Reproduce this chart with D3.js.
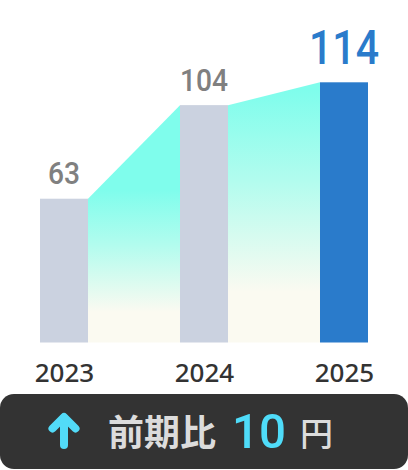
<!DOCTYPE html>
<html><head><meta charset="utf-8">
<script src="https://cdn.jsdelivr.net/npm/d3@7"></script>
<style>
html,body{margin:0;padding:0;background:#fff;}
svg{display:block;}
</style>
</head><body>
<svg id="c" width="408" height="470"></svg>
<script>
const years = ["2023", "2024", "2025"];
const values = [63, 104, 114];
const highlightIndex = 2;
const summaryLabel = "前期比";
const summaryValue = 10;
const summaryUnit = "円";

const W = 408, H = 470;
const svg = d3.select("#c");
const barW = 48;
const x = d3.scalePoint().domain(years).range([64, 344]);
const y = d3.scaleLinear().domain([0, 114]).range([342.5, 82.3]);

const defs = svg.append("defs");
const gradStops = [
  {id: "g0", y1: 190, y2: 312},
  {id: "g1", y1: 90, y2: 292}
];
gradStops.forEach(g => {
  const lg = defs.append("linearGradient").attr("id", g.id)
    .attr("gradientUnits", "userSpaceOnUse")
    .attr("x1", 0).attr("x2", 0).attr("y1", g.y1).attr("y2", g.y2);
  lg.append("stop").attr("offset", 0).attr("stop-color", "#7ffdec");
  lg.append("stop").attr("offset", 0.45).attr("stop-color", "#b2fcee");
  lg.append("stop").attr("offset", 1).attr("stop-color", "#fbfaf1");
});

// connecting areas
const area = d3.area().x(d => d[0]).y0(y(0)).y1(d => d[1]);
for (let i = 0; i < years.length - 1; i++) {
  const pts = [
    [x(years[i]) + barW / 2, y(values[i])],
    [x(years[i + 1]) - barW / 2, y(values[i + 1])]
  ];
  svg.append("path").attr("d", area(pts)).attr("fill", `url(#g${i})`);
}

// bars
svg.selectAll("rect.bar").data(values).join("rect")
  .attr("class", "bar")
  .attr("x", (d, i) => x(years[i]) - barW / 2)
  .attr("width", barW)
  .attr("y", d => y(d))
  .attr("height", d => y(0) - y(d))
  .attr("fill", (d, i) => i === highlightIndex ? "#2a7bcb" : "#cbd2e0");

// value labels
svg.selectAll("text.val").data(values).join("text")
  .attr("class", "val")
  .attr("x", (d, i) => x(years[i]))
  .attr("y", (d, i) => y(d) - (i === highlightIndex ? 18 : 14.5))
  .attr("text-anchor", "middle")
  .attr("font-family", "Roboto, sans-serif")
  .attr("font-weight", 500)
  .attr("font-size", (d, i) => i === highlightIndex ? 48 : 31)
  .attr("fill", (d, i) => i === highlightIndex ? "#2a7bcb" : "#808080")
  .attr("textLength", (d, i) => i === highlightIndex ? 70 : (String(d).length * 16))
  .attr("lengthAdjust", "spacingAndGlyphs")
  .text(d => d);

// x axis labels
const axis = d3.axisBottom(x).tickSize(0).tickPadding(0);
const ax = svg.append("g").attr("transform", `translate(0,${y(0)})`).call(axis);
ax.select(".domain").remove();
ax.selectAll("text")
  .attr("dy", null)
  .attr("y", 39)
  .attr("font-family", "'Noto Sans', sans-serif")
  .attr("font-size", 26)
  .attr("font-weight", 500)
  .attr("fill", "#333");

// summary box
svg.append("rect").attr("x", 0).attr("y", 394).attr("width", W).attr("height", 75)
  .attr("rx", 14).attr("fill", "#333333");
// arrow
const arrow = svg.append("g").attr("stroke", "#52dbf8").attr("stroke-width", 8)
  .attr("stroke-linecap", "round").attr("stroke-linejoin", "round").attr("fill", "none");
arrow.append("path").attr("d", "M64,445 L64,418");
arrow.append("path").attr("d", "M52.5,428.5 L64,417 L75.5,428.5");

svg.append("text").attr("x", 108).attr("y", 446)
  .attr("font-family", "'Noto Sans CJK JP', sans-serif").attr("font-weight", 700)
  .attr("font-size", 36).attr("fill", "#dcdcdc").text(summaryLabel);
svg.append("text").attr("x", 232).attr("y", 447.7)
  .attr("font-family", "Roboto, sans-serif").attr("font-weight", 500).attr("font-size", 49)
  .attr("fill", "#4fdcf9")
  .attr("textLength", 54).attr("lengthAdjust", "spacingAndGlyphs")
  .text(summaryValue);
svg.append("text").attr("x", 300).attr("y", 446)
  .attr("font-family", "'Noto Sans CJK JP', sans-serif").attr("font-weight", 500)
  .attr("font-size", 33).attr("fill", "#dcdcdc").text(summaryUnit);
</script>
</body></html>
